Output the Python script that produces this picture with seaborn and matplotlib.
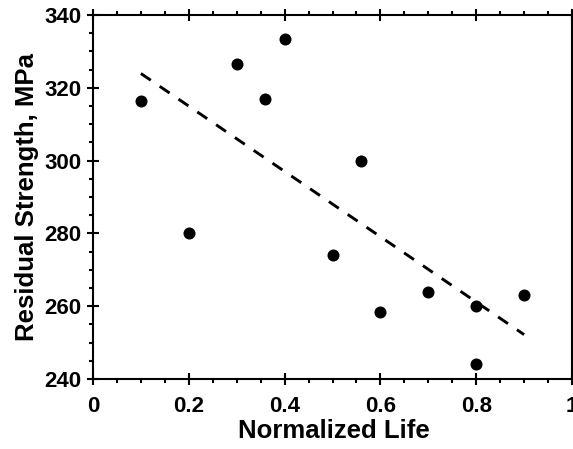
import matplotlib
matplotlib.use("Agg")
import matplotlib.pyplot as plt
import seaborn as sns
import pandas as pd
from matplotlib.ticker import MultipleLocator

normalized_life = [0.1, 0.2, 0.3, 0.36, 0.4, 0.5, 0.56, 0.6, 0.7, 0.8, 0.8, 0.9]
residual_strength = [316.5, 280.0, 326.5, 317.0, 333.5, 274.0, 300.0, 258.5, 264.0, 260.0, 244.0, 263.0]
x_tick_values = [0, 0.2, 0.4, 0.6, 0.8, 1.0]
x_tick_labels = ["0", "0.2", "0.4", "0.6", "0.8", "1"]

df = pd.DataFrame({"life": normalized_life, "strength": residual_strength})

sns.set_theme(style="ticks")
plt.rcParams['font.family'] = ['Liberation Sans', 'DejaVu Sans']
plt.rcParams['font.weight'] = 'bold'
plt.rcParams['text.color'] = 'black'
plt.rcParams['axes.labelcolor'] = 'black'
plt.rcParams['xtick.color'] = 'black'
plt.rcParams['ytick.color'] = 'black'

fig = plt.figure(figsize=(5.73, 4.49), dpi=100)
ax = fig.add_axes([93/573, 1-379/449, (572-93)/573, (379-15)/449])

sns.regplot(data=df, x="life", y="strength", ax=ax, ci=None, truncate=True,
            scatter_kws=dict(s=75, color="black", alpha=1, edgecolor="black", linewidths=0, zorder=3),
            line_kws=dict(color="black", lw=2.1, dashes=(4.1, 3.7)))

ax.set_xlim(0, 1)
ax.set_ylim(240, 340)
ax.xaxis.set_minor_locator(MultipleLocator(0.05))
ax.yaxis.set_major_locator(MultipleLocator(20))
ax.yaxis.set_minor_locator(MultipleLocator(5))
ax.set_xticks(x_tick_values)
ax.set_xticklabels(x_tick_labels)

for s in ax.spines.values():
    s.set_linewidth(1.5)
    s.set_color("black")
ax.tick_params(which="both", top=True, right=False, width=1.5, color="black",
               labelcolor="black")
ax.tick_params(which="major", direction="inout", length=8.5, labelsize=16)
ax.tick_params(which="minor", direction="out", length=3)
ax.tick_params(axis="x", which="major", pad=8)
ax.tick_params(axis="y", which="major", pad=4)
for lab in ax.get_xticklabels() + ax.get_yticklabels():
    lab.set_fontweight("bold")

ax.set_xlabel("Normalized Life", fontsize=18.5, fontweight="bold")
ax.set_ylabel("Residual Strength, MPa", fontsize=18.5, fontweight="bold")
ax.xaxis.set_label_coords(0.503, -0.11)
ax.yaxis.set_label_coords(-0.112, 0.5)

fig.savefig("out.png", dpi=100)
